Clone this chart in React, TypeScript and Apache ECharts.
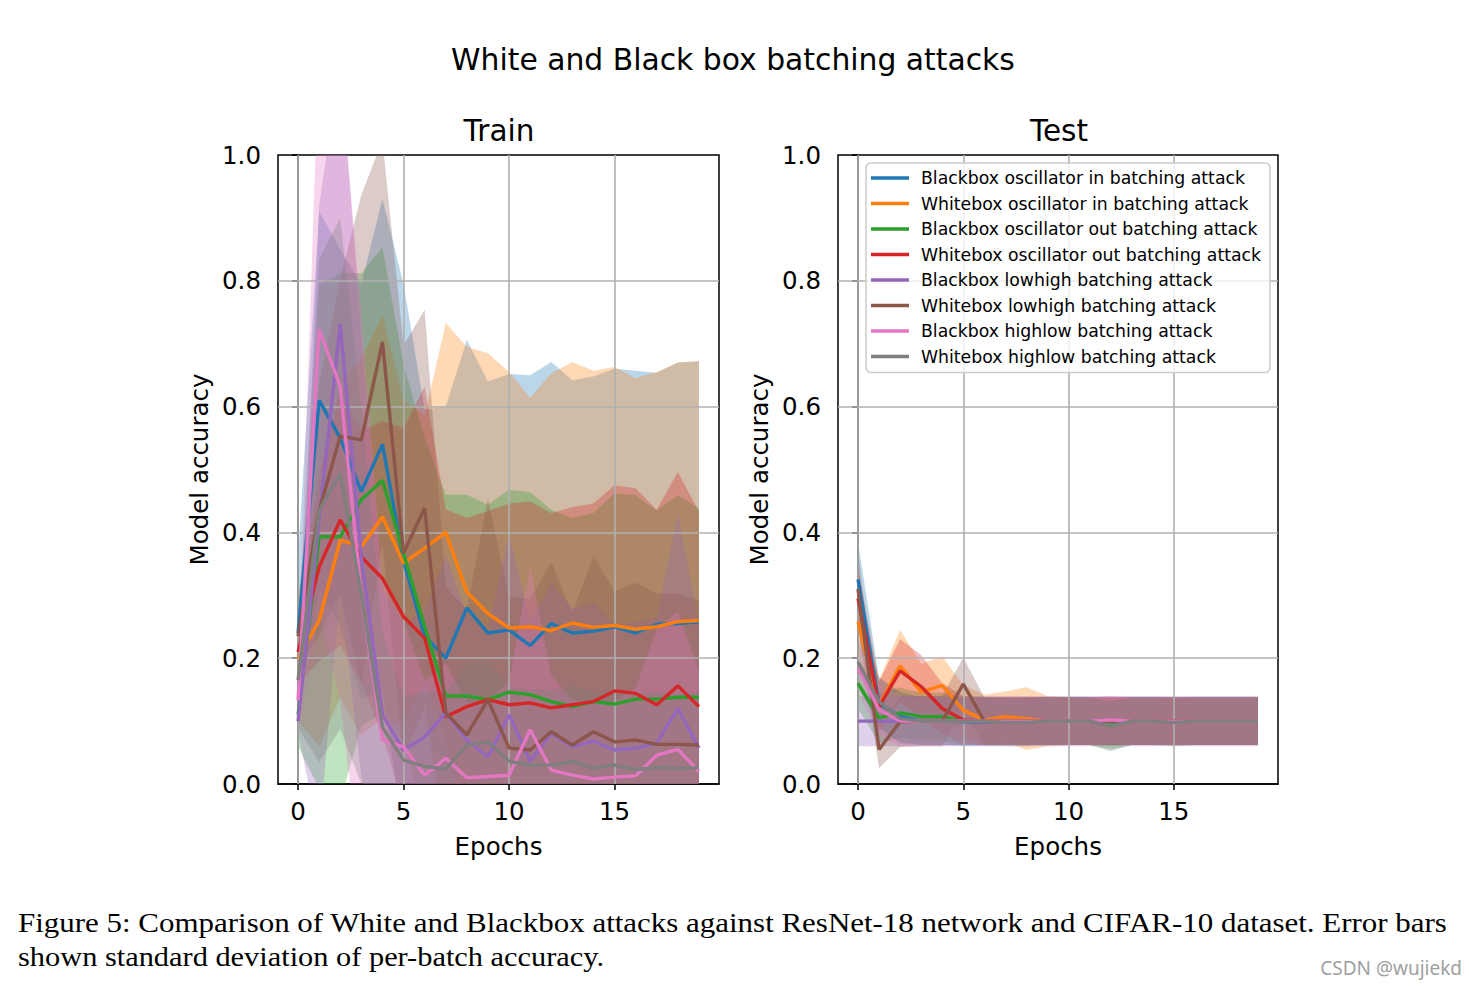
import React, { useEffect, useRef } from "react";
import * as echarts from "echarts";

// ---------------- data ----------------
const epochs = [0, 1, 2, 3, 4, 5, 6, 7, 8, 9, 10, 11, 12, 13, 14, 15, 16, 17, 18, 19];
const xTicks = [0, 5, 10, 15];
const yGridValues = [0.2, 0.4, 0.6, 0.8];

const seriesNames = [
  "Blackbox oscillator in batching attack",
  "Whitebox oscillator in batching attack",
  "Blackbox oscillator out batching attack",
  "Whitebox oscillator out batching attack",
  "Blackbox lowhigh batching attack",
  "Whitebox lowhigh batching attack",
  "Blackbox highlow batching attack",
  "Whitebox highlow batching attack",
];
const palette = ["#1f77b4", "#ff7f0e", "#2ca02c", "#d62728", "#9467bd", "#8c564b", "#e377c2", "#7f7f7f"];

// Train: mean accuracy and standard deviation per epoch
const trBOscInMean = [0.24, 0.61, 0.55, 0.465, 0.54, 0.355, 0.235, 0.2, 0.28, 0.24, 0.245, 0.22, 0.255, 0.24, 0.243, 0.25, 0.24, 0.254, 0.255, 0.258];
const trBOscInStd = [0.12, 0.3, 0.3, 0.33, 0.39, 0.44, 0.36, 0.4, 0.426, 0.4, 0.407, 0.43, 0.416, 0.402, 0.405, 0.41, 0.417, 0.4, 0.415, 0.414];
const trWOscInMean = [0.2, 0.26, 0.388, 0.377, 0.425, 0.351, 0.375, 0.4, 0.305, 0.271, 0.248, 0.25, 0.244, 0.256, 0.249, 0.252, 0.246, 0.25, 0.258, 0.26];
const trWOscInStd = [0.1, 0.2, 0.25, 0.3, 0.32, 0.26, 0.21, 0.333, 0.39, 0.414, 0.407, 0.364, 0.409, 0.415, 0.408, 0.411, 0.399, 0.405, 0.412, 0.412];
const trBOscOutMean = [0.11, 0.393, 0.393, 0.452, 0.483, 0.367, 0.25, 0.14, 0.14, 0.134, 0.146, 0.142, 0.131, 0.123, 0.131, 0.127, 0.135, 0.135, 0.138, 0.138];
const trBOscOutStd = [0.05, 0.4, 0.42, 0.36, 0.37, 0.3, 0.3, 0.32, 0.32, 0.31, 0.322, 0.322, 0.305, 0.3, 0.3, 0.335, 0.324, 0.3, 0.321, 0.3];
const trWOscOutMean = [0.21, 0.345, 0.42, 0.361, 0.327, 0.266, 0.232, 0.107, 0.123, 0.134, 0.126, 0.129, 0.121, 0.126, 0.131, 0.148, 0.144, 0.126, 0.156, 0.123];
const trWOscOutStd = [0.05, 0.15, 0.2, 0.2, 0.25, 0.3, 0.4, 0.33, 0.3, 0.3, 0.32, 0.32, 0.31, 0.314, 0.315, 0.327, 0.326, 0.31, 0.34, 0.31];
const trBLowHighMean = [0.1, 0.42, 0.731, 0.36, 0.11, 0.054, 0.075, 0.113, 0.07, 0.043, 0.11, 0.036, 0.08, 0.059, 0.068, 0.054, 0.057, 0.065, 0.12, 0.057];
const trBLowHighStd = [0.02, 0.5, 0.42, 0.35, 0.2, 0.2, 0.2, 0.25, 0.2, 0.2, 0.29, 0.22, 0.24, 0.22, 0.22, 0.2, 0.2, 0.2, 0.31, 0.2];
const trWLowHighMean = [0.235, 0.435, 0.553, 0.547, 0.703, 0.367, 0.439, 0.113, 0.078, 0.134, 0.057, 0.054, 0.083, 0.062, 0.083, 0.067, 0.07, 0.063, 0.063, 0.062];
const trWLowHighStd = [0.05, 0.2, 0.25, 0.39, 0.32, 0.33, 0.315, 0.2, 0.2, 0.32, 0.24, 0.24, 0.27, 0.21, 0.28, 0.24, 0.25, 0.24, 0.24, 0.23];
const trBHighLowMean = [0.133, 0.723, 0.632, 0.3, 0.07, 0.059, 0.014, 0.041, 0.01, 0.012, 0.014, 0.086, 0.022, 0.014, 0.008, 0.011, 0.013, 0.046, 0.055, 0.02];
const trBHighLowStd = [0.05, 0.45, 0.5, 0.45, 0.25, 0.2, 0.15, 0.15, 0.12, 0.12, 0.15, 0.26, 0.15, 0.12, 0.12, 0.12, 0.14, 0.2, 0.22, 0.16];
const trWHighLowMean = [0.165, 0.435, 0.494, 0.3, 0.09, 0.038, 0.028, 0.024, 0.062, 0.067, 0.036, 0.03, 0.03, 0.036, 0.025, 0.03, 0.023, 0.026, 0.025, 0.026];
const trWHighLowStd = [0.075, 0.4, 0.406, 0.3, 0.15, 0.1, 0.12, 0.12, 0.13, 0.13, 0.12, 0.12, 0.12, 0.12, 0.12, 0.12, 0.12, 0.12, 0.12, 0.12];

// Test: mean accuracy and standard deviation per epoch
const teBOscInMean = [0.325, 0.128, 0.107, 0.1, 0.1, 0.099, 0.099, 0.1, 0.1, 0.1, 0.1, 0.1, 0.1, 0.1, 0.1, 0.1, 0.1, 0.1, 0.1, 0.1];
const teBOscInStd = [0.06, 0.04, 0.04, 0.038, 0.038, 0.038, 0.038, 0.038, 0.038, 0.038, 0.038, 0.038, 0.038, 0.038, 0.038, 0.038, 0.038, 0.038, 0.038, 0.038];
const teWOscInMean = [0.258, 0.125, 0.188, 0.146, 0.157, 0.117, 0.102, 0.107, 0.104, 0.1, 0.1, 0.1, 0.1, 0.1, 0.1, 0.1, 0.1, 0.1, 0.1, 0.1];
const teWOscInStd = [0.05, 0.04, 0.057, 0.045, 0.046, 0.04, 0.04, 0.04, 0.05, 0.04, 0.038, 0.038, 0.038, 0.038, 0.038, 0.038, 0.038, 0.038, 0.038, 0.038];
const teBOscOutMean = [0.16, 0.105, 0.113, 0.107, 0.107, 0.1, 0.1, 0.1, 0.1, 0.1, 0.1, 0.1, 0.093, 0.1, 0.1, 0.1, 0.1, 0.1, 0.1, 0.1];
const teBOscOutStd = [0.04, 0.04, 0.04, 0.038, 0.038, 0.038, 0.038, 0.038, 0.038, 0.038, 0.038, 0.038, 0.038, 0.038, 0.038, 0.038, 0.038, 0.038, 0.038, 0.038];
const teWOscOutMean = [0.295, 0.123, 0.18, 0.155, 0.12, 0.102, 0.1, 0.1, 0.1, 0.1, 0.1, 0.1, 0.1, 0.1, 0.1, 0.1, 0.1, 0.1, 0.1, 0.1];
const teWOscOutStd = [0.05, 0.04, 0.05, 0.05, 0.04, 0.038, 0.038, 0.038, 0.038, 0.038, 0.038, 0.038, 0.038, 0.038, 0.038, 0.038, 0.038, 0.038, 0.038, 0.038];
const teBLowHighMean = [0.1, 0.1, 0.1, 0.1, 0.1, 0.1, 0.1, 0.1, 0.1, 0.1, 0.1, 0.1, 0.1, 0.1, 0.1, 0.1, 0.1, 0.1, 0.1, 0.1];
const teBLowHighStd = [0.04, 0.04, 0.04, 0.04, 0.04, 0.04, 0.04, 0.04, 0.04, 0.04, 0.04, 0.04, 0.04, 0.04, 0.04, 0.04, 0.04, 0.04, 0.04, 0.04];
const teWLowHighMean = [0.31, 0.055, 0.099, 0.1, 0.1, 0.159, 0.1, 0.1, 0.1, 0.1, 0.1, 0.1, 0.1, 0.1, 0.1, 0.1, 0.1, 0.1, 0.1, 0.1];
const teWLowHighStd = [0.06, 0.03, 0.04, 0.04, 0.04, 0.042, 0.038, 0.038, 0.038, 0.038, 0.038, 0.038, 0.038, 0.038, 0.038, 0.038, 0.038, 0.038, 0.038, 0.038];
const teBHighLowMean = [0.185, 0.118, 0.1, 0.1, 0.1, 0.1, 0.1, 0.1, 0.1, 0.1, 0.1, 0.1, 0.102, 0.1, 0.1, 0.1, 0.1, 0.1, 0.1, 0.1];
const teBHighLowStd = [0.04, 0.04, 0.04, 0.038, 0.038, 0.038, 0.038, 0.038, 0.038, 0.038, 0.038, 0.038, 0.038, 0.038, 0.038, 0.038, 0.038, 0.038, 0.038, 0.038];
const teWHighLowMean = [0.194, 0.131, 0.104, 0.1, 0.1, 0.1, 0.1, 0.098, 0.098, 0.1, 0.1, 0.1, 0.092, 0.1, 0.1, 0.098, 0.1, 0.1, 0.1, 0.1];
const teWHighLowStd = [0.04, 0.04, 0.04, 0.038, 0.038, 0.038, 0.038, 0.038, 0.038, 0.038, 0.038, 0.038, 0.04, 0.038, 0.038, 0.038, 0.038, 0.038, 0.038, 0.038];

const trainMeans = [trBOscInMean, trWOscInMean, trBOscOutMean, trWOscOutMean, trBLowHighMean, trWLowHighMean, trBHighLowMean, trWHighLowMean];
const trainStds = [trBOscInStd, trWOscInStd, trBOscOutStd, trWOscOutStd, trBLowHighStd, trWLowHighStd, trBHighLowStd, trWHighLowStd];
const testMeans = [teBOscInMean, teWOscInMean, teBOscOutMean, teWOscOutMean, teBLowHighMean, teWLowHighMean, teBHighLowMean, teWHighLowMean];
const testStds = [teBOscInStd, teWOscInStd, teBOscOutStd, teWOscOutStd, teBLowHighStd, teWLowHighStd, teBHighLowStd, teWHighLowStd];

const FONT = "DejaVu Sans";

function hexToRgba(hex: string, a: number) {
  const n = parseInt(hex.slice(1), 16);
  return `rgba(${(n >> 16) & 255},${(n >> 8) & 255},${n & 255},${a})`;
}

function bandSeries(p: number, i: number, mean: number[], sd: number[]) {
  const lower = mean.map((m, k) => m - sd[k]);
  const upper = mean.map((m, k) => m + sd[k]);
  return {
    type: "custom",
    xAxisIndex: p,
    yAxisIndex: p,
    silent: true,
    clip: true,
    z: 1,
    data: epochs.map((x, k) => [x, lower[k], upper[k]]),
    encode: { x: 0, y: [1, 2] },
    renderItem: (params: any, api: any) => {
      if (params.dataIndex !== 0) return null;
      const top = epochs.map((x, k) => api.coord([x, upper[k]]));
      const bot = epochs.map((x, k) => api.coord([x, lower[k]])).reverse();
      const cs = params.coordSys;
      return {
        type: "polygon",
        shape: { points: [...top, ...bot] },
        style: { fill: hexToRgba(palette[i], 0.3), stroke: "none" },
        clipPath: { type: "rect", shape: { x: cs.x, y: cs.y, width: cs.width, height: cs.height } },
      };
    },
  };
}

function buildPlot(p: number, means: number[][], stds: number[][]) {
  const out: any[] = [];
  means.forEach((m, i) => out.push(bandSeries(p, i, m, stds[i])));
  // helper (invisible) series carrying the grid lines, drawn above bands and below lines
  out.push({
    type: "line",
    xAxisIndex: p,
    yAxisIndex: p,
    symbol: "none",
    silent: true,
    z: 2,
    lineStyle: { opacity: 0, width: 0 },
    data: epochs.map((x, k) => [x, means[0][k]]),
    markLine: {
      silent: true,
      symbol: ["none", "none"],
      label: { show: false },
      z: 3,
      animation: false,
      emphasis: { disabled: true },
      lineStyle: { color: "#b0b0b0", width: 1.6, type: "solid" },
      data: [...xTicks.map((v) => ({ xAxis: v })), ...yGridValues.map((v) => ({ yAxis: v }))],
    },
  });
  means.forEach((m, i) => {
    out.push({
      type: "line",
      name: seriesNames[i],
      xAxisIndex: p,
      yAxisIndex: p,
      symbol: "none",
      data: epochs.map((x, k) => [x, m[k]]),
      lineStyle: { color: palette[i], width: 3.4 },
      itemStyle: { color: palette[i] },
      z: 10,
    });
  });
  return out;
}

function makeXAxis(p: number) {
  return {
    type: "value",
    gridIndex: p,
    min: -0.95,
    max: 19.95,
    splitLine: { show: false },
    axisLine: { show: true, lineStyle: { color: "#000", width: 1.5 } },
    axisTick: { show: true, customValues: xTicks, length: 6, lineStyle: { color: "#000", width: 1.5 } },
    axisLabel: { customValues: xTicks, fontSize: 24.5, color: "#000", fontFamily: FONT, margin: 15 },
    name: "Epochs",
    nameLocation: "middle",
    nameGap: 50,
    nameTextStyle: { fontSize: 24.5, color: "#000", fontFamily: FONT },
  };
}

function makeYAxis(p: number) {
  return {
    type: "value",
    gridIndex: p,
    min: 0,
    max: 1,
    interval: 0.2,
    splitLine: { show: false },
    axisLine: { show: true, lineStyle: { color: "#000", width: 1.5 } },
    axisTick: { show: true, length: 6, lineStyle: { color: "#000", width: 1.5 } },
    axisLabel: {
      fontSize: 24.5,
      color: "#000",
      fontFamily: FONT,
      margin: 17,
      formatter: (v: number) => v.toFixed(1),
    },
    name: "Model accuracy",
    nameLocation: "middle",
    nameGap: 66,
    nameRotate: 90,
    nameTextStyle: { fontSize: 24.5, color: "#000", fontFamily: FONT },
  };
}

export default function App() {
  const ref = useRef<HTMLDivElement>(null);
  useEffect(() => {
    const chart = echarts.init(ref.current!, null, { renderer: "svg" });
    const option: any = {
      animation: false,
      backgroundColor: "#ffffff",
      color: palette,
      textStyle: { fontFamily: FONT },
      title: [
        {
          text: "White and Black box batching attacks",
          left: 733,
          top: 44,
          padding: 0,
          textAlign: "center",
          textStyle: { fontSize: 29.8, fontWeight: "normal", color: "#000", fontFamily: FONT },
        },
        {
          text: "Train",
          left: 499,
          top: 116,
          padding: 0,
          textAlign: "center",
          textStyle: { fontSize: 29.5, fontWeight: "normal", color: "#000", fontFamily: FONT },
        },
        {
          text: "Test",
          left: 1059,
          top: 116,
          padding: 0,
          textAlign: "center",
          textStyle: { fontSize: 29.5, fontWeight: "normal", color: "#000", fontFamily: FONT },
        },
      ],
      legend: {
        data: seriesNames,
        orient: "vertical",
        left: 866,
        top: 163,
        icon: "rect",
        itemWidth: 38,
        itemHeight: 3.5,
        itemGap: 5.5,
        selectedMode: false,
        padding: [5, 9, 6, 5],
        backgroundColor: "rgba(255,255,255,0.8)",
        borderColor: "#cccccc",
        borderWidth: 1.5,
        borderRadius: 5,
        z: 20,
        textStyle: { fontSize: 17.3, fontFamily: FONT, color: "#000", lineHeight: 20, padding: [0, 0, 0, 7] },
      },
      grid: [
        { left: 278, top: 155, width: 441, height: 629, show: true, borderColor: "#000", borderWidth: 1.5, backgroundColor: "transparent" },
        { left: 838, top: 155, width: 440, height: 629, show: true, borderColor: "#000", borderWidth: 1.5, backgroundColor: "transparent" },
      ],
      xAxis: [makeXAxis(0), makeXAxis(1)],
      yAxis: [makeYAxis(0), makeYAxis(1)],
      series: [...buildPlot(0, trainMeans, trainStds), ...buildPlot(1, testMeans, testStds)],
      graphic: [
        {
          type: "text",
          x: 18,
          y: 923,
          scaleX: 1.126,
          style: {
            text: "Figure 5: Comparison of White and Blackbox attacks against ResNet-18 network and CIFAR-10 dataset. Error bars",
            fontFamily: "Liberation Serif",
            fontSize: 27.5,
            fill: "#000",
            verticalAlign: "middle",
          },
        },
        {
          type: "text",
          x: 18,
          y: 957,
          scaleX: 1.105,
          style: {
            text: "shown standard deviation of per-batch accuracy.",
            fontFamily: "Liberation Serif",
            fontSize: 27.5,
            fill: "#000",
            verticalAlign: "middle",
          },
        },
        {
          type: "text",
          x: 1462,
          y: 968,
          style: {
            text: "CSDN @wujiekd",
            fontFamily: "Noto Sans",
            fontSize: 19,
            fill: "#a0a0a0",
            align: "right",
            verticalAlign: "middle",
          },
        },
      ],
    };
    chart.setOption(option);
    return () => chart.dispose();
  }, []);
  return (
    <div
      ref={ref}
      style={{ position: "absolute", left: 0, top: 0, width: 1476, height: 988, background: "#fff" }}
    />
  );
}
